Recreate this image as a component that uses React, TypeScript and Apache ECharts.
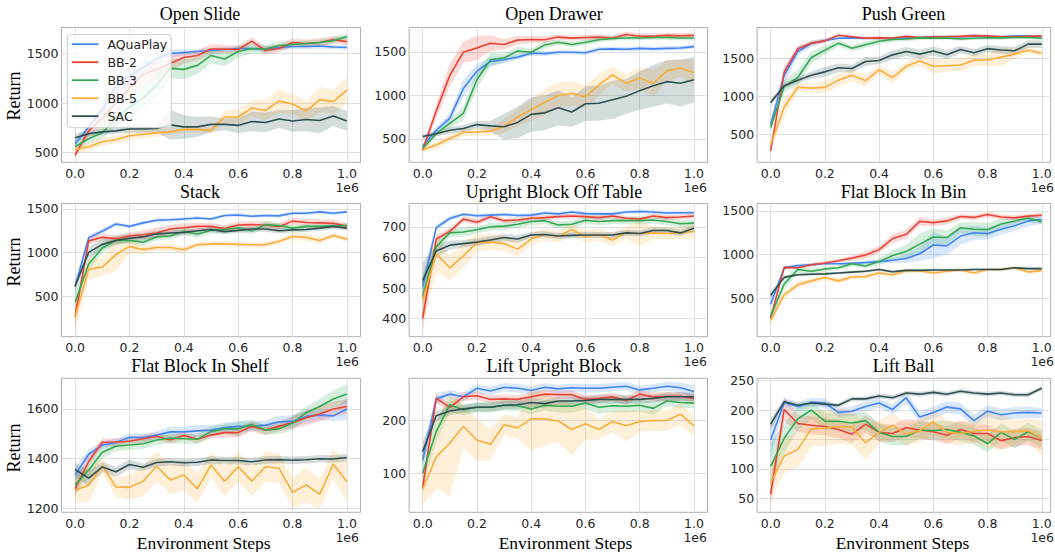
import React, { useEffect, useRef } from 'react';
import * as echarts from 'echarts';

// ---------------- data ----------------
const STEPS = [0, 0.05, 0.1, 0.15, 0.2, 0.25, 0.3, 0.35, 0.4, 0.45, 0.5, 0.55, 0.6, 0.65, 0.7, 0.75, 0.8, 0.85, 0.9, 0.95, 1.0];
const METHODS = ['AQuaPlay', 'BB-2', 'BB-3', 'BB-5', 'SAC'];
const TITLES = [
  'Open Slide', 'Open Drawer', 'Push Green',
  'Stack', 'Upright Block Off Table', 'Flat Block In Bin',
  'Flat Block In Shelf', 'Lift Upright Block', 'Lift Ball',
];
const X_TICKS = [0, 0.2, 0.4, 0.6, 0.8, 1.0];
const Y_TICKS = [
  [500, 1000, 1500], [500, 1000, 1500], [500, 1000, 1500],
  [500, 1000, 1500], [400, 500, 600, 700], [500, 1000, 1500],
  [1200, 1400, 1600], [100, 200], [50, 100, 150, 200, 250],
];
const Y_RANGES = [
  [403, 1762], [232, 1780], [128, 1912],
  [42, 1561], [341, 776], [62, 1584],
  [1185, 1723], [26, 280], [26, 254],
];

// order of rows in each table: AQuaPlay, BB-2, BB-3, BB-5, SAC
const OPEN_SLIDE_MEAN = [
  [590, 760, 940, 1170, 1270, 1360, 1450, 1500, 1510, 1520, 1530, 1540, 1550, 1550, 1545, 1560, 1570, 1570, 1575, 1565, 1560],
  [475, 720, 850, 1000, 1150, 1290, 1340, 1400, 1460, 1480, 1545, 1545, 1540, 1625, 1530, 1550, 1610, 1600, 1610, 1640, 1620],
  [560, 640, 700, 850, 960, 1050, 1180, 1350, 1340, 1380, 1480, 1445, 1520, 1550, 1545, 1580, 1590, 1600, 1610, 1630, 1670],
  [530, 560, 610, 630, 670, 685, 700, 710, 735, 735, 725, 860, 860, 950, 925, 1020, 990, 920, 1035, 1015, 1130],
  [650, 690, 710, 720, 740, 740, 745, 780, 760, 760, 785, 785, 775, 815, 805, 840, 820, 835, 825, 870, 820],
];
const OPEN_SLIDE_SPREAD = [
  [40, 40, 60, 80, 80, 70, 60, 40, 30, 25, 25, 25, 25, 25, 25, 25, 25, 25, 25, 20, 20],
  [30, 50, 80, 100, 100, 110, 100, 80, 60, 50, 50, 40, 40, 40, 40, 40, 40, 40, 40, 40, 40],
  [40, 50, 60, 80, 100, 120, 120, 100, 100, 90, 80, 70, 60, 50, 40, 40, 30, 30, 30, 30, 30],
  [40, 40, 40, 40, 40, 40, 40, 30, 30, 30, 30, 60, 80, 80, 100, 120, 100, 100, 130, 120, 130],
  [40, 30, 30, 30, 40, 40, 40, 150, 120, 100, 80, 60, 80, 100, 100, 90, 110, 120, 130, 100, 100],
];

const OPEN_DRAWER_MEAN = [
  [420, 600, 740, 1080, 1280, 1390, 1410, 1440, 1485, 1480, 1495, 1495, 1490, 1530, 1535, 1530, 1540, 1535, 1540, 1545, 1560],
  [370, 820, 1230, 1496, 1546, 1600, 1585, 1635, 1642, 1640, 1670, 1658, 1665, 1670, 1660, 1700, 1680, 1680, 1690, 1685, 1690],
  [390, 560, 680, 795, 1180, 1410, 1430, 1510, 1495, 1580, 1610, 1585, 1610, 1640, 1655, 1660, 1660, 1665, 1665, 1660, 1660],
  [380, 430, 505, 575, 580, 590, 645, 750, 835, 920, 1000, 1025, 985, 1120, 1235, 1140, 1200, 1140, 1282, 1315, 1260],
  [528, 560, 600, 620, 665, 650, 640, 690, 782, 800, 858, 810, 905, 910, 950, 990, 1055, 1110, 1158, 1140, 1180],
];
const OPEN_DRAWER_SPREAD = [
  [30, 40, 50, 100, 80, 50, 40, 30, 30, 30, 25, 25, 25, 25, 25, 25, 25, 25, 25, 25, 25],
  [30, 80, 130, 120, 140, 90, 60, 50, 40, 40, 30, 30, 30, 30, 30, 30, 30, 30, 30, 30, 30],
  [30, 40, 50, 80, 100, 80, 50, 50, 40, 40, 30, 30, 30, 30, 25, 25, 25, 25, 25, 25, 25],
  [40, 40, 40, 40, 40, 50, 80, 100, 120, 150, 150, 140, 130, 120, 100, 100, 120, 150, 120, 100, 150],
  [30, 30, 40, 40, 40, 60, 150, 180, 200, 200, 200, 170, 200, 200, 220, 200, 220, 240, 250, 270, 260],
];

const PUSH_GREEN_MEAN = [
  [630, 1280, 1595, 1700, 1740, 1770, 1775, 1770, 1770, 1770, 1775, 1780, 1790, 1790, 1790, 1800, 1795, 1790, 1800, 1800, 1790],
  [280, 1320, 1630, 1705, 1735, 1810, 1790, 1770, 1775, 1770, 1795, 1780, 1785, 1790, 1795, 1805, 1800, 1790, 1790, 1795, 1800],
  [590, 1130, 1250, 1515, 1610, 1705, 1638, 1685, 1730, 1755, 1760, 1775, 1770, 1775, 1760, 1770, 1775, 1775, 1780, 1780, 1770],
  [360, 860, 1122, 1110, 1120, 1215, 1280, 1208, 1352, 1248, 1398, 1468, 1400, 1405, 1415, 1480, 1482, 1520, 1560, 1612, 1570],
  [920, 1140, 1215, 1280, 1325, 1380, 1370, 1462, 1475, 1550, 1595, 1560, 1600, 1552, 1622, 1578, 1632, 1615, 1605, 1692, 1692],
];
const PUSH_GREEN_SPREAD = [
  [50, 130, 60, 40, 30, 20, 20, 20, 20, 20, 20, 20, 20, 20, 20, 20, 20, 20, 20, 20, 20],
  [40, 60, 40, 30, 25, 20, 20, 20, 20, 20, 20, 20, 20, 20, 20, 20, 20, 20, 20, 20, 20],
  [60, 80, 100, 80, 60, 40, 40, 40, 40, 30, 30, 30, 25, 25, 25, 25, 25, 25, 25, 25, 25],
  [80, 120, 60, 60, 80, 80, 80, 80, 60, 80, 60, 60, 100, 80, 80, 80, 80, 120, 60, 40, 40],
  [40, 40, 40, 50, 60, 60, 50, 60, 50, 60, 60, 60, 60, 60, 50, 50, 50, 50, 50, 50, 50],
];

const STACK_MEAN = [
  [610, 1172, 1244, 1328, 1300, 1340, 1370, 1375, 1385, 1395, 1385, 1425, 1430, 1415, 1425, 1420, 1450, 1450, 1465, 1450, 1465],
  [270, 1135, 1175, 1160, 1190, 1205, 1225, 1270, 1285, 1300, 1300, 1275, 1315, 1320, 1315, 1295, 1360, 1345, 1340, 1335, 1305],
  [435, 870, 1053, 1140, 1140, 1120, 1180, 1190, 1245, 1210, 1255, 1265, 1285, 1250, 1320, 1310, 1280, 1300, 1300, 1305, 1310],
  [265, 812, 836, 977, 1072, 1035, 1060, 1060, 1034, 1090, 1100, 1100, 1095, 1090, 1090, 1130, 1185, 1175, 1140, 1195, 1155],
  [620, 1004, 1095, 1140, 1165, 1180, 1215, 1225, 1230, 1250, 1265, 1240, 1255, 1270, 1270, 1250, 1260, 1265, 1280, 1300, 1280],
];
const STACK_SPREAD = [
  [80, 30, 30, 20, 20, 20, 20, 20, 20, 20, 20, 20, 20, 20, 20, 20, 20, 20, 20, 20, 15],
  [100, 40, 40, 40, 40, 50, 60, 50, 50, 40, 40, 40, 40, 40, 40, 40, 40, 40, 40, 40, 30],
  [120, 70, 60, 40, 40, 40, 40, 40, 40, 40, 40, 40, 40, 40, 40, 30, 30, 30, 30, 30, 30],
  [150, 120, 100, 190, 80, 50, 40, 40, 40, 30, 30, 30, 30, 30, 30, 30, 40, 40, 40, 30, 30],
  [60, 60, 60, 50, 50, 40, 40, 40, 30, 30, 30, 30, 30, 30, 30, 30, 30, 30, 30, 30, 30],
];

const UPRIGHT_OFF_TABLE_MEAN = [
  [505, 697, 727, 741, 736, 738, 740, 737, 738, 745, 742, 748, 743, 742, 742, 748, 750, 748, 745, 746, 746],
  [401, 660, 685, 725, 715, 733, 720, 722, 728, 730, 733, 735, 733, 730, 735, 728, 725, 735, 730, 732, 735],
  [472, 635, 680, 683, 690, 700, 702, 708, 717, 720, 706, 708, 721, 717, 720, 720, 720, 722, 717, 710, 712],
  [461, 611, 566, 605, 648, 650, 645, 627, 660, 675, 668, 691, 668, 675, 657, 682, 678, 680, 678, 680, 685],
  [524, 621, 640, 645, 650, 657, 665, 660, 673, 675, 670, 672, 673, 673, 673, 680, 678, 688, 688, 680, 695],
];
const UPRIGHT_OFF_TABLE_SPREAD = [
  [40, 10, 8, 6, 6, 6, 6, 6, 6, 6, 6, 6, 6, 6, 6, 6, 6, 6, 6, 6, 6],
  [50, 15, 10, 10, 10, 10, 8, 8, 8, 8, 8, 8, 8, 8, 8, 8, 8, 8, 8, 8, 8],
  [60, 20, 15, 15, 12, 12, 12, 12, 12, 12, 12, 12, 12, 12, 12, 12, 12, 12, 12, 12, 12],
  [80, 60, 40, 40, 30, 25, 25, 25, 20, 20, 20, 20, 20, 20, 20, 20, 40, 20, 20, 20, 25],
  [60, 20, 15, 12, 12, 12, 12, 12, 10, 10, 10, 10, 10, 10, 10, 10, 10, 10, 10, 10, 10],
];

const FLAT_BLOCK_BIN_MEAN = [
  [436, 848, 875, 885, 895, 895, 900, 910, 920, 935, 955, 1010, 1110, 1100, 1212, 1250, 1240, 1290, 1330, 1385, 1400],
  [273, 854, 850, 885, 905, 930, 960, 995, 1057, 1183, 1233, 1380, 1365, 1385, 1435, 1425, 1458, 1430, 1420, 1440, 1450],
  [295, 664, 830, 810, 835, 850, 895, 870, 920, 990, 1035, 1120, 1202, 1195, 1307, 1290, 1285, 1350, 1385, 1415, 1375],
  [250, 540, 655, 700, 738, 700, 745, 750, 790, 770, 815, 815, 790, 810, 825, 790, 830, 830, 850, 800, 820],
  [535, 740, 770, 775, 780, 790, 800, 810, 830, 805, 820, 820, 825, 825, 825, 830, 830, 830, 850, 840, 840],
];
const FLAT_BLOCK_BIN_SPREAD = [
  [60, 20, 20, 15, 15, 15, 15, 20, 20, 30, 50, 80, 150, 100, 100, 80, 70, 60, 60, 60, 50],
  [50, 20, 20, 20, 20, 20, 30, 40, 40, 50, 50, 50, 40, 40, 30, 30, 30, 30, 30, 30, 30],
  [60, 60, 40, 30, 30, 30, 30, 30, 40, 60, 80, 120, 100, 80, 60, 80, 80, 60, 40, 30, 30],
  [60, 40, 40, 30, 30, 30, 30, 30, 30, 30, 30, 20, 20, 20, 20, 20, 20, 20, 20, 20, 30],
  [40, 20, 15, 15, 15, 15, 15, 15, 15, 15, 15, 15, 15, 15, 15, 15, 15, 15, 15, 15, 15],
];

const FLAT_BLOCK_SHELF_MEAN = [
  [1335, 1418, 1455, 1465, 1486, 1485, 1495, 1508, 1508, 1512, 1515, 1525, 1530, 1530, 1535, 1548, 1550, 1570, 1575, 1572, 1600],
  [1279, 1389, 1466, 1467, 1470, 1480, 1490, 1475, 1493, 1478, 1495, 1505, 1505, 1530, 1515, 1530, 1545, 1565, 1580, 1600, 1610],
  [1295, 1355, 1426, 1450, 1455, 1460, 1475, 1483, 1480, 1478, 1510, 1520, 1520, 1538, 1515, 1520, 1543, 1585, 1610, 1640, 1660],
  [1274, 1294, 1372, 1287, 1285, 1310, 1370, 1315, 1335, 1280, 1375, 1310, 1368, 1310, 1368, 1362, 1265, 1295, 1258, 1378, 1308],
  [1357, 1322, 1367, 1348, 1377, 1366, 1385, 1388, 1384, 1386, 1395, 1393, 1393, 1388, 1395, 1396, 1394, 1396, 1400, 1399, 1405],
];
const FLAT_BLOCK_SHELF_SPREAD = [
  [30, 20, 15, 15, 15, 15, 15, 20, 20, 25, 20, 20, 20, 20, 20, 25, 25, 25, 20, 20, 45],
  [30, 20, 15, 15, 15, 15, 15, 15, 15, 15, 15, 20, 20, 20, 20, 20, 25, 30, 30, 30, 30],
  [40, 30, 25, 20, 20, 20, 20, 20, 20, 20, 20, 20, 30, 20, 20, 20, 30, 25, 30, 35, 40],
  [50, 70, 30, 40, 50, 60, 60, 60, 60, 60, 50, 60, 60, 60, 60, 60, 60, 70, 60, 60, 80],
  [30, 30, 20, 20, 20, 15, 15, 15, 15, 15, 15, 15, 15, 15, 15, 15, 15, 15, 15, 15, 15],
];

const LIFT_UPRIGHT_MEAN = [
  [125, 241, 250, 245, 261, 256, 263, 261, 257, 263, 260, 262, 261, 261, 263, 265, 258, 261, 265, 262, 255],
  [73, 242, 225, 245, 247, 240, 241, 240, 245, 250, 249, 249, 240, 242, 245, 238, 250, 245, 246, 246, 242],
  [100, 179, 230, 220, 225, 225, 229, 228, 222, 229, 227, 227, 233, 225, 228, 227, 229, 223, 237, 234, 233],
  [70, 131, 157, 189, 163, 155, 192, 186, 203, 203, 199, 183, 194, 183, 198, 190, 198, 200, 200, 212, 190],
  [141, 209, 218, 222, 225, 225, 229, 230, 234, 232, 237, 237, 238, 240, 240, 240, 240, 242, 245, 245, 245],
];
const LIFT_UPRIGHT_SPREAD = [
  [20, 10, 8, 8, 8, 8, 8, 8, 8, 8, 8, 8, 8, 8, 8, 8, 8, 8, 8, 10, 12],
  [15, 8, 8, 8, 8, 8, 8, 8, 8, 8, 8, 8, 8, 8, 8, 8, 8, 8, 8, 8, 8],
  [25, 20, 15, 10, 10, 10, 10, 10, 10, 10, 12, 12, 12, 12, 12, 12, 12, 12, 10, 10, 10],
  [30, 60, 100, 40, 40, 30, 20, 20, 60, 50, 40, 50, 30, 20, 20, 30, 20, 20, 20, 20, 20],
  [20, 10, 8, 8, 8, 8, 8, 8, 8, 8, 8, 8, 8, 8, 8, 8, 8, 8, 8, 8, 8],
];

const LIFT_BALL_MEAN = [
  [149, 213, 206, 213, 212, 196, 198, 206, 212, 201, 221, 188, 196, 205, 202, 182, 198, 192, 195, 196, 195],
  [57, 201, 177, 174, 172, 167, 159, 176, 162, 160, 170, 166, 163, 157, 167, 160, 160, 148, 153, 155, 148],
  [104, 152, 185, 200, 181, 181, 178, 182, 162, 155, 155, 166, 165, 167, 162, 156, 143, 162, 150, 163, 152],
  [76, 122, 133, 168, 169, 172, 171, 144, 162, 174, 159, 165, 180, 162, 160, 164, 166, 163, 163, 165, 152],
  [176, 214, 208, 212, 210, 208, 219, 219, 224, 221, 229, 227, 230, 227, 232, 229, 227, 229, 226, 226, 237],
];
const LIFT_BALL_SPREAD = [
  [30, 8, 8, 8, 8, 8, 8, 8, 8, 8, 10, 10, 10, 10, 10, 10, 10, 10, 10, 10, 8],
  [20, 20, 15, 15, 15, 15, 15, 15, 15, 15, 15, 15, 15, 15, 15, 15, 15, 15, 15, 15, 15],
  [40, 25, 20, 15, 15, 15, 15, 15, 15, 15, 15, 15, 15, 15, 15, 15, 15, 15, 15, 15, 15],
  [30, 30, 30, 30, 30, 30, 30, 30, 20, 20, 20, 20, 20, 20, 20, 20, 30, 30, 20, 20, 30],
  [10, 4, 4, 4, 4, 4, 4, 4, 4, 4, 4, 4, 4, 4, 4, 4, 4, 4, 4, 4, 4],
];

const PANEL_MEANS = [
  OPEN_SLIDE_MEAN, OPEN_DRAWER_MEAN, PUSH_GREEN_MEAN,
  STACK_MEAN, UPRIGHT_OFF_TABLE_MEAN, FLAT_BLOCK_BIN_MEAN,
  FLAT_BLOCK_SHELF_MEAN, LIFT_UPRIGHT_MEAN, LIFT_BALL_MEAN,
];
const PANEL_SPREADS = [
  OPEN_SLIDE_SPREAD, OPEN_DRAWER_SPREAD, PUSH_GREEN_SPREAD,
  STACK_SPREAD, UPRIGHT_OFF_TABLE_SPREAD, FLAT_BLOCK_BIN_SPREAD,
  FLAT_BLOCK_SHELF_SPREAD, LIFT_UPRIGHT_SPREAD, LIFT_BALL_SPREAD,
];

// ---------------- layout / style ----------------
const COLORS = ['#4285F4', '#EA4335', '#34A853', '#FBAD3C', '#2F4F4F'];
const COL_LEFT = [61.5, 409.1, 757.1];
const COL_WIDTH = [299, 298.4, 293.6];
const COL_XMAX = [1.05, 1.05, 1.033];
const ROW_TOP = [27.5, 203.5, 378.3];
const ROW_HEIGHT = [134.8, 133.2, 134];
const TITLE_X = [200, 554, 903.5];
const TITLE_Y = [14, 191.5, 366];
const XLABEL_X = [203.7, 565.5, 902.5];
const YLABEL_Y = [96, 262, 448];
const OFFSET_RIGHT = [359, 707, 1054];
const OFFSET_Y = [187, 361.5, 537];

const SERIF = '"Liberation Serif", "DejaVu Serif", serif';
const SANS = '"DejaVu Sans", sans-serif';

function buildOption() {
  const grid: any[] = [];
  const xAxis: any[] = [];
  const yAxis: any[] = [];
  const series: any[] = [];
  const graphic: any[] = [];

  for (let p = 0; p < 9; p++) {
    const r = Math.floor(p / 3);
    const c = p % 3;
    grid.push({
      left: COL_LEFT[c], top: ROW_TOP[r], width: COL_WIDTH[c], height: ROW_HEIGHT[r],
      show: true, borderColor: '#a6a6a6', borderWidth: 0.9, backgroundColor: 'transparent',
      containLabel: false,
    });
    xAxis.push({
      type: 'value', gridIndex: p, min: -0.05, max: COL_XMAX[c],
      axisLine: { show: false },
      axisTick: { show: false, customValues: X_TICKS },
      axisLabel: {
        customValues: X_TICKS, margin: 4.5,
        formatter: (v: number) => v.toFixed(1),
        fontFamily: SANS, fontSize: 12.5, color: '#262626',
      },
      splitLine: { show: true, lineStyle: { color: '#dcdcdc', width: 0.9 } },
    });
    const yt = Y_TICKS[p];
    yAxis.push({
      type: 'value', gridIndex: p, min: Y_RANGES[p][0], max: Y_RANGES[p][1],
      axisLine: { show: false },
      axisTick: { show: false, customValues: yt },
      axisLabel: {
        customValues: yt, margin: 3,
        formatter: (v: number) => String(v),
        fontFamily: SANS, fontSize: 12.5, color: '#262626',
      },
      splitLine: { show: true, lineStyle: { color: '#dcdcdc', width: 0.9 } },
    });

    const means = PANEL_MEANS[p];
    const spreads = PANEL_SPREADS[p];
    for (let s = 0; s < 5; s++) {
      const mean = means[s];
      const spread = spreads[s];
      const color = COLORS[s];
      series.push({
        type: 'custom', name: METHODS[s] + ' band', xAxisIndex: p, yAxisIndex: p,
        silent: true, z: 1, clip: true,
        data: [[STEPS[0], mean[0]]],
        renderItem: (_params: any, api: any) => {
          const pts: number[][] = [];
          for (let i = 0; i < STEPS.length; i++) pts.push(api.coord([STEPS[i], mean[i] + spread[i]]));
          for (let i = STEPS.length - 1; i >= 0; i--) pts.push(api.coord([STEPS[i], mean[i] - spread[i]]));
          return { type: 'polygon', shape: { points: pts }, style: { fill: color, opacity: 0.2 } };
        },
      });
    }
    for (let s = 0; s < 5; s++) {
      const mean = means[s];
      series.push({
        type: 'line', name: METHODS[s], xAxisIndex: p, yAxisIndex: p,
        data: STEPS.map((x, i) => [x, mean[i]]),
        showSymbol: false, symbol: 'none', color: COLORS[s], z: 3,
        lineStyle: { width: 1.6, color: COLORS[s] },
        silent: true,
      });
    }

    graphic.push({
      type: 'text', x: TITLE_X[c], y: TITLE_Y[r],
      style: { text: TITLES[p], font: `18px ${SERIF}`, fill: '#000', textAlign: 'center', textVerticalAlign: 'middle' },
    });
    graphic.push({
      type: 'text', x: OFFSET_RIGHT[c], y: OFFSET_Y[r],
      style: { text: '1e6', font: `12.5px ${SANS}`, fill: '#262626', textAlign: 'right', textVerticalAlign: 'middle' },
    });
  }
  for (let r = 0; r < 3; r++) {
    graphic.push({
      type: 'text', x: 14, y: YLABEL_Y[r], rotation: Math.PI / 2,
      style: { text: 'Return', font: `18px ${SERIF}`, fill: '#000', textAlign: 'center', textVerticalAlign: 'middle' },
    });
  }
  for (let c = 0; c < 3; c++) {
    graphic.push({
      type: 'text', x: XLABEL_X[c], y: 542.5,
      style: { text: 'Environment Steps', font: `17.5px ${SERIF}`, fill: '#000', textAlign: 'center', textVerticalAlign: 'middle' },
    });
  }

  return {
    animation: false,
    backgroundColor: '#ffffff',
    grid, xAxis, yAxis, series, graphic,
    legend: {
      data: METHODS, orient: 'vertical', left: 67.3, top: 34.7,
      icon: 'rect', itemWidth: 26.6, itemHeight: 1.8, itemGap: 0,
      padding: [0.5, 4, 2.5, 4.5],
      backgroundColor: 'rgba(255,255,255,0.8)', borderColor: '#cccccc', borderWidth: 1, borderRadius: 3,
      textStyle: { fontFamily: SANS, fontSize: 12.5, color: '#222', lineHeight: 18, padding: [0, 0, 0, 4] },
      selectedMode: false, z: 10,
    },
  };
}

export default function App() {
  const ref = useRef<HTMLDivElement>(null);
  useEffect(() => {
    if (!ref.current) return;
    const chart = echarts.init(ref.current, undefined, { renderer: 'svg' });
    chart.setOption(buildOption() as any);
    return () => chart.dispose();
  }, []);
  return <div ref={ref} style={{ position: 'absolute', left: 0, top: 0, width: 1055, height: 552, background: '#fff' }} />;
}
